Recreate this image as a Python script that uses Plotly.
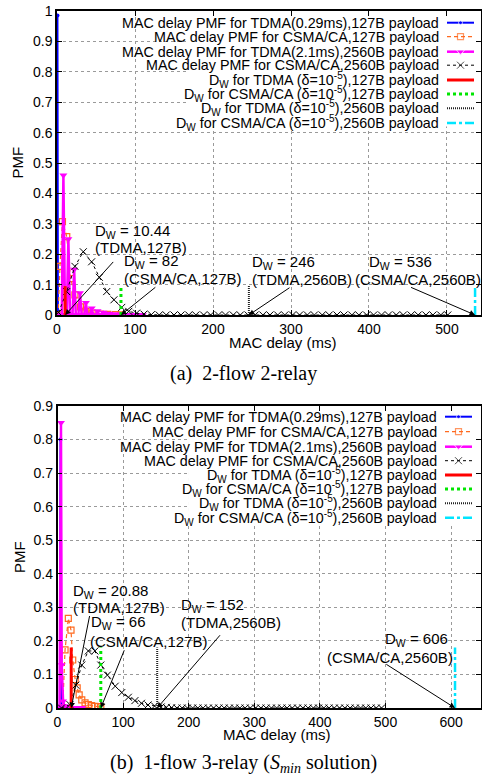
import plotly.graph_objects as go

W, H = 482, 777

# ---------------- data: plot (a) 2-flow 2-relay ----------------
a_tdma127_x = [0.29, 0.58, 0.87, 1.16, 1.45]
a_tdma127_y = [0.0, 0.985, 0.01, 0.004, 0.0]

a_csma127_x = [1.5, 3.8, 7.0, 12.5, 17.5, 23, 30, 37, 45, 55, 65, 75, 82]
a_csma127_y = [0.0, 0.16, 0.307, 0.258, 0.12, 0.066, 0.027, 0.012, 0.006, 0.003, 0.002, 0.001, 0.0005]

a_tdma2560_x = [2.1, 6.1, 8.2, 10.3, 12.5, 14.6, 16.7, 19.9, 22.0, 24.1, 27.4, 29.5, 31.6,
                34.9, 37.0, 39.1, 42.4, 44.5, 46.6, 49.9, 52.0, 54.1, 57.4, 59.5, 61.6,
                64.9, 67.0, 69.1, 72.4, 74.5, 76.6, 79.9, 82.0, 84.1, 87.4, 89.5, 91.6,
                94.9, 97.0, 99.1, 102.4, 104.5, 106.6, 110.0]
a_tdma2560_y = [0.0, 0.0, 0.46, 0.0, 0.0, 0.25, 0.0, 0.0, 0.15, 0.0, 0.0, 0.072, 0.0,
                0.0, 0.04, 0.0, 0.0, 0.022, 0.0, 0.0, 0.013, 0.0, 0.0, 0.008, 0.0,
                0.0, 0.005, 0.0, 0.0, 0.003, 0.0, 0.0, 0.002, 0.0, 0.0, 0.001, 0.0,
                0.0, 0.001, 0.0, 0.0, 0.0005, 0.0, 0.0]

a_csma2560_x = [2, 12.4, 23, 33.7, 44.4, 54.3, 63.7, 73, 83, 92, 102, 111.5, 121, 131, 140,
                150, 159, 169, 178, 188, 197, 207, 216, 226, 235, 245, 254, 264, 273, 283,
                292, 302, 311, 321, 330, 340, 349, 359, 368, 378, 387, 397, 406, 416, 425,
                435, 444, 454, 463, 473, 482, 492, 501]
a_csma2560_y = [0.008, 0.077, 0.16, 0.208, 0.175, 0.124, 0.077, 0.05, 0.025, 0.012, 0.006,
                0.003, 0.001, 0, 0, 0, 0, 0, 0, 0, 0, 0, 0, 0, 0, 0, 0, 0, 0, 0, 0, 0, 0,
                0, 0, 0, 0, 0, 0, 0, 0, 0, 0, 0, 0, 0, 0, 0, 0, 0, 0, 0, 0]

a_dw = [10.44, 82, 246, 536]
a_dw_height = 0.095

# ---------------- data: plot (b) 1-flow 3-relay ----------------
b_tdma127_x = [3.6, 4.6, 5.6]
b_tdma127_y = [0.0, 0.8, 0.0]

b_csma127_x = [8, 11.5, 16.5, 20.6, 23.2, 27, 30, 33, 37, 42, 47, 52, 57, 62, 66]
b_csma127_y = [0.0, 0.173, 0.267, 0.232, 0.143, 0.085, 0.06, 0.039, 0.024, 0.015, 0.01,
               0.007, 0.005, 0.004, 0.003]

b_tdma2560_x = [1.1, 3.2, 5.3, 6.4, 8.5, 10.6, 12.7, 14.8, 16.9, 19.0, 21.1, 23.2, 25.3,
                27.4, 29.5, 31.6, 33.7, 35.8, 37.9]
b_tdma2560_y = [0.0, 0.0, 0.85, 0.128, 0.02, 0.006, 0.002, 0.001, 0, 0, 0, 0, 0, 0, 0, 0,
                0, 0, 0]

b_csma2560_x = [6, 19, 28, 37, 47, 57, 66, 76, 88, 98, 108, 118, 128, 138, 148, 158, 166,
                174, 182, 190, 198, 206, 214, 222, 230, 238, 246, 254, 262, 270, 278, 286,
                294, 302, 310, 318, 326, 334, 342, 350, 358, 366, 374, 382, 390, 398, 406,
                414, 422, 430, 438, 446, 454, 462, 470, 478, 486, 494]
b_csma2560_y = [0.0, 0.01, 0.068, 0.128, 0.17, 0.17, 0.128, 0.098, 0.065, 0.046, 0.032,
                0.022, 0.014, 0.009, 0.006, 0.003, 0.002, 0.001, 0, 0, 0, 0, 0, 0, 0, 0,
                0, 0, 0, 0, 0, 0, 0, 0, 0, 0, 0, 0, 0, 0, 0, 0, 0, 0, 0, 0, 0, 0, 0, 0,
                0, 0, 0, 0, 0, 0, 0, 0]

b_dw = [20.88, 66, 152, 606]
b_dw_height = 0.18

legend_labels = [
    "MAC delay PMF for TDMA(0.29ms),127B payload",
    "MAC delay PMF for CSMA/CA,127B payload",
    "MAC delay PMF for TDMA(2.1ms),2560B payload",
    "MAC delay PMF for CSMA/CA,2560B payload",
    "D<sub>W</sub> for TDMA (δ=10<sup>-5</sup>),127B payload",
    "D<sub>W</sub> for CSMA/CA (δ=10<sup>-5</sup>),127B payload",
    "D<sub>W</sub> for TDMA (δ=10<sup>-5</sup>),2560B payload",
    "D<sub>W</sub> for CSMA/CA (δ=10<sup>-5</sup>),2560B payload",
]
a_dw_labels = ["(TDMA,127B)", "(CSMA/CA,127B)", "(TDMA,2560B)", "(CSMA/CA,2560B)"]
b_dw_labels = ["(TDMA,127B)", "(CSMA/CA,127B)", "(TDMA,2560B)", "(CSMA/CA,2560B)"]

a_yticks = [0, 0.1, 0.2, 0.3, 0.4, 0.5, 0.6, 0.7, 0.8, 0.9, 1]
a_yticktext = ["0", "0.1", "0.2", "0.3", "0.4", "0.5", "0.6", "0.7", "0.8", "0.9", "1"]
b_yticks = [0, 0.1, 0.2, 0.3, 0.4, 0.5, 0.6, 0.7, 0.8, 0.9]
b_yticktext = ["0", "0.1", "0.2", "0.3", "0.4", "0.5", "0.6", "0.7", "0.8", "0.9"]
a_xticks = [0, 100, 200, 300, 400, 500]
b_xticks = [0, 100, 200, 300, 400, 500, 600]

# ---------------- styles ----------------
SANS = "Liberation Sans, Arial, Helvetica, sans-serif"
SERIF = "Liberation Serif, Times New Roman, serif"

styles = [
    dict(color="#0000ff", width=2, dash="solid", symbol="circle", msize=4),
    dict(color="#ff6a1f", width=1.2, dash="4px,3px", symbol="square-open", msize=6),
    dict(color="#ff00ff", width=2.5, dash="solid", symbol="triangle-down", msize=7),
    dict(color="#000000", width=1, dash="3px,3px", symbol="x-thin", msize=7),
    dict(color="#ff0000", width=3, dash="solid"),
    dict(color="#00e600", width=3, dash="dot"),
    dict(color="#222222", width=2, dash="1px,1px"),
    dict(color="#00e5ff", width=2.5, dash="dashdot"),
]


def marker_for(st, size=None):
    m = dict(symbol=st["symbol"], size=size or st["msize"], color=st["color"])
    if st["symbol"] == "x-thin":
        m["line"] = dict(color=st["color"], width=1)
    elif st["symbol"] == "square-open":
        m["line"] = dict(color=st["color"], width=1.2)
    return m


fig = go.Figure()


def key_backdrop(xa, ya, x0, x1, y0, y1):
    # opaque key box hiding the grid behind the key (drawn first, below data)
    fig.add_trace(go.Scatter(
        x=[x0, x1, x1, x0, x0], y=[y0, y0, y1, y1, y0], xaxis=xa, yaxis=ya,
        mode="lines", fill="toself", fillcolor="white", line=dict(width=0, color="white"),
        showlegend=False, hoverinfo="skip"))


def add_panel(xa, ya, pmfs, dws, dwh):
    for i, (xs, ys) in enumerate(pmfs):
        st = styles[i]
        fig.add_trace(go.Scatter(
            x=xs, y=ys, mode="lines+markers", xaxis=xa, yaxis=ya,
            line=dict(color=st["color"], width=st["width"], dash=st["dash"]),
            marker=marker_for(st), showlegend=False, hoverinfo="skip"))
    for j, d in enumerate(dws):
        st = styles[4 + j]
        fig.add_trace(go.Scatter(
            x=[d, d], y=[0, dwh], mode="lines", xaxis=xa, yaxis=ya,
            line=dict(color=st["color"], width=st["width"], dash=st["dash"]),
            showlegend=False, hoverinfo="skip"))


key_backdrop("x", "y", 168, 543, 0.62, 0.997)
key_backdrop("x2", "y2", 199, 645, 0.545, 0.897)

add_panel("x", "y",
          [(a_tdma127_x, a_tdma127_y), (a_csma127_x, a_csma127_y),
           (a_tdma2560_x, a_tdma2560_y), (a_csma2560_x, a_csma2560_y)],
          a_dw, a_dw_height)
add_panel("x2", "y2",
          [(b_tdma127_x, b_tdma127_y), (b_csma127_x, b_csma127_y),
           (b_tdma2560_x, b_tdma2560_y), (b_csma2560_x, b_csma2560_y)],
          b_dw, b_dw_height)

# ---------------- manual keys (text right, sample on the right) ----------------
key_rows = {
    "a": dict(rows=[22.7, 36.7, 51.7, 65.2, 80, 94, 108.3, 123], text_x=441, s0=447, s1=474),
    "b": dict(rows=[416.7, 431.7, 446.7, 460.7, 475, 489, 503.3, 517.7], text_x=439, s0=445, s1=472),
}
annotations = []
for key in ["a", "b"]:
    kr = key_rows[key]
    for i, lab in enumerate(legend_labels):
        yrow = kr["rows"][i]
        annotations.append(dict(
            text=lab, xref="paper", yref="paper", x=kr["text_x"] / W, y=1 - yrow / H,
            xanchor="right", yanchor="middle", showarrow=False,
            font=dict(family=SANS, size=14.3, color="black")))
        st = styles[i]
        xm = (kr["s0"] + kr["s1"]) / 2
        tr = dict(x=[kr["s0"], xm, kr["s1"]], y=[yrow, yrow, yrow], xaxis="x3", yaxis="y3",
                  line=dict(color=st["color"], width=st["width"], dash=st["dash"]),
                  showlegend=False, hoverinfo="skip")
        if i < 4:
            m = marker_for(st)
            m["size"] = [0, st["msize"], 0]
            tr["mode"] = "lines+markers"
            tr["marker"] = m
        else:
            tr["mode"] = "lines"
        fig.add_trace(go.Scatter(**tr))

# ---------------- D_W annotations ----------------
def dw_text(xref, yref, d, label, l1, l2, arrow):
    annotations.append(dict(text="D<sub>W</sub> = %s" % ("%g" % d), xref=xref, yref=yref,
                            x=l1[0], y=l1[1], xanchor="left", yanchor="middle", showarrow=False,
                            font=dict(family=SANS, size=15, color="black")))
    annotations.append(dict(text=label, xref=xref, yref=yref, x=l2[0], y=l2[1],
                            xanchor="left", yanchor="middle", showarrow=False,
                            font=dict(family=SANS, size=15, color="black")))
    annotations.append(dict(text=" ", xref=xref, yref=yref, x=d, y=0, ax=arrow[0], ay=arrow[1],
                            axref=xref, ayref=yref, showarrow=True, arrowhead=2, arrowsize=1.1,
                            arrowwidth=1, arrowcolor="black", standoff=0, font=dict(size=1)))


a_pos = [((46.5, 0.276), (46.5, 0.221), (74, 0.18)),
         ((83, 0.177), (83, 0.119), (128, 0.095)),
         ((247.5, 0.172), (247.5, 0.117), (300, 0.093)),
         ((398, 0.172), (379, 0.117), (452, 0.093))]
for d, lab, (l1, l2, ar) in zip(a_dw, a_dw_labels, a_pos):
    dw_text("x", "y", d, lab, l1, l2, ar)

b_pos = [((20.5, 0.348), (20.5, 0.299), (49.5, 0.28)),
         ((48, 0.256), (46, 0.199), (103, 0.178)),
         ((184.5, 0.305), (184.5, 0.254), (250, 0.222)),
         ((496, 0.204), (408, 0.15), (499, 0.133))]
for d, lab, (l1, l2, ar) in zip(b_dw, b_dw_labels, b_pos):
    dw_text("x2", "y2", d, lab, l1, l2, ar)

# ---------------- axis titles & captions ----------------
annotations += [
    dict(text="MAC delay (ms)", xref="paper", yref="paper", x=282.5 / W, y=1 - 342 / H,
         xanchor="center", yanchor="middle", showarrow=False, font=dict(family=SANS, size=15, color="black")),
    dict(text="MAC delay (ms)", xref="paper", yref="paper", x=277 / W, y=1 - 734 / H,
         xanchor="center", yanchor="middle", showarrow=False, font=dict(family=SANS, size=15, color="black")),
    dict(text="PMF", xref="paper", yref="paper", x=17.5 / W, y=1 - 163 / H, textangle=-90,
         xanchor="center", yanchor="middle", showarrow=False, font=dict(family=SANS, size=15, color="black")),
    dict(text="PMF", xref="paper", yref="paper", x=19 / W, y=1 - 557 / H, textangle=-90,
         xanchor="center", yanchor="middle", showarrow=False, font=dict(family=SANS, size=15, color="black")),
    dict(text="(a)\u00a0 2-flow 2-relay", xref="paper", yref="paper", x=243 / W, y=1 - 373 / H,
         xanchor="center", yanchor="middle", showarrow=False, font=dict(family=SERIF, size=20, color="black")),
    dict(text="(b)\u00a0 1-flow 3-relay (<i>S<sub>min</sub></i> solution)", xref="paper", yref="paper",
         x=243.5 / W, y=1 - 763 / H, xanchor="center", yanchor="middle", showarrow=False,
         font=dict(family=SERIF, size=20, color="black")),
]

# ---------------- layout ----------------
axis_common = dict(showline=True, linecolor="black", linewidth=1.5, mirror="ticks",
                   ticks="inside", ticklen=5, tickcolor="black", tickwidth=1,
                   showgrid=True, gridcolor="#9a9a9a", griddash="dot", gridwidth=1,
                   zeroline=False, automargin=False,
                   tickfont=dict(family=SANS, size=14, color="black"))

fig.update_layout(
    width=W, height=H, template="none",
    margin=dict(l=0, r=0, t=0, b=0),
    paper_bgcolor="white", plot_bgcolor="rgba(0,0,0,0)",
    showlegend=False,
    xaxis=dict(domain=[57 / W, 481 / W], range=[0, 543.6], anchor="y",
               tickmode="array", tickvals=a_xticks, **axis_common),
    yaxis=dict(domain=[1 - 315 / H, 1 - 11 / H], range=[0, 1], anchor="x",
               tickmode="array", tickvals=a_yticks, ticktext=a_yticktext, **axis_common),
    xaxis2=dict(domain=[57.5 / W, 481 / W], range=[0, 645.6], anchor="y2",
                tickmode="array", tickvals=b_xticks, **axis_common),
    yaxis2=dict(domain=[1 - 708 / H, 1 - 406 / H], range=[0, 0.9], anchor="x2",
                tickmode="array", tickvals=b_yticks, ticktext=b_yticktext, **axis_common),
    xaxis3=dict(domain=[0, 1], range=[0, W], anchor="y3", visible=False, fixedrange=True),
    yaxis3=dict(domain=[0, 1], range=[H, 0], anchor="x3", visible=False, fixedrange=True),
    annotations=annotations,
)

fig.write_html("out.html", config={"displayModeBar": False},
               post_script="document.body.style.margin='0';document.body.style.overflow='hidden';")
